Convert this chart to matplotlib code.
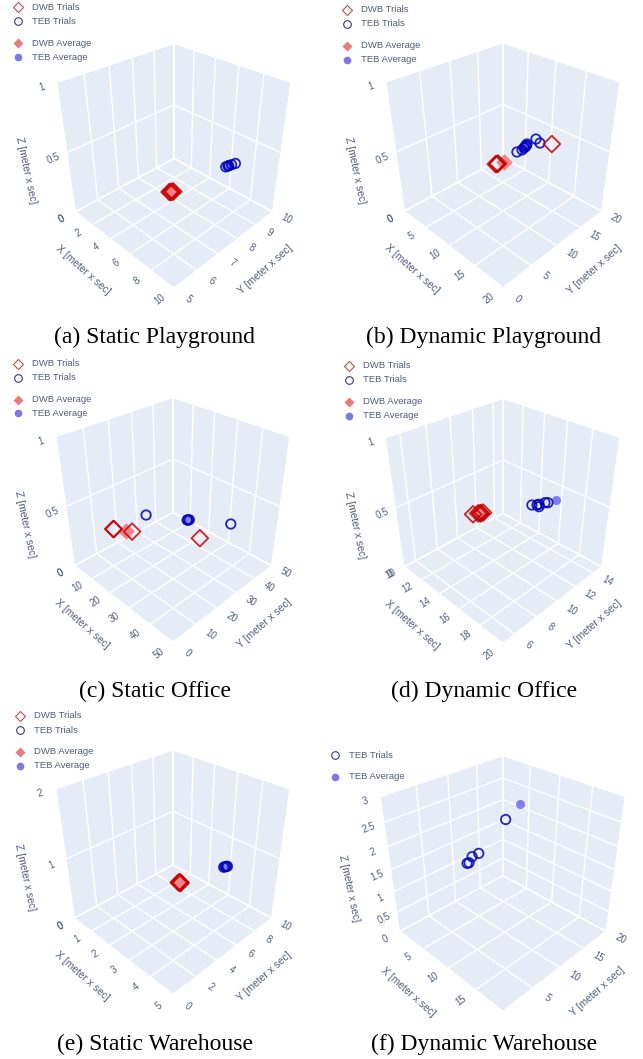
import math
import matplotlib
matplotlib.use("Agg")
import matplotlib.pyplot as plt
from matplotlib.lines import Line2D
from mpl_toolkits.mplot3d import proj3d

W, H = 643, 1059
BG = '#E5ECF6'
TXT = '#4f5d78'
RED = '#c80000'
BLUE = '#0000b8'

# (a) Static Playground
a_dwb_x = [7.87, 7.95, 7.93, 8.0]
a_dwb_y = [5.88, 5.95, 5.9, 5.97]
a_dwb_avg = [7.93, 5.92]
a_teb_x = [8.5, 8.53, 8.55, 8.6, 8.68]
a_teb_y = [8.05, 8.14, 8.17, 8.28, 8.42]
a_teb_avg = [8.54, 8.14]
a_xticks = [0, 2, 4, 6, 8, 10]
a_yticks = [5, 6, 7, 8, 9, 10]
a_zticks = [0, 0.5, 1]

# (b) Dynamic Playground
b_dwb_x = [11.49, 11.5, 11.4, 13.24]
b_dwb_y = [7.44, 7.6, 7.3, 16.12]
b_dwb_avg = [11.8, 8.4]
b_teb_x = [11.3, 11.43, 11.27, 11.11, 10.86, 10.83, 11.93, 11.2, 11.05]
b_teb_y = [11.3, 12.14, 12.69, 13.26, 13.74, 15.6, 15.18, 12.9, 13.4]
b_teb_avg = [11.1, 13.2]
b_xticks = [0, 5, 10, 15, 20]
b_yticks = [0, 5, 10, 15, 20]
b_zticks = [0, 0.5, 1]

# (c) Static Office
c_dwb_x = [21.2, 21.4, 26.35, 43.2]
c_dwb_y = [2.9, 3.0, 6.07, 18.1]
c_dwb_avg = [24.8, 5.0]
c_teb_x = [22.5, 33.8, 34.0, 34.2, 44.95]
c_teb_y = [15.3, 22.5, 22.7, 23.1, 30.5]
c_teb_avg = [34.0, 22.8]
c_xticks = [0, 10, 20, 30, 40, 50]
c_yticks = [0, 10, 20, 30, 40, 50]
c_zticks = [0, 0.5, 1]

# (d) Dynamic Office
d_dwb_x = [14.21, 14.35, 14.44, 14.52, 14.47]
d_dwb_y = [8.06, 8.37, 8.46, 8.65, 8.5]
d_dwb_avg = [14.47, 8.5]
d_teb_x = [16.13, 16.37, 16.4, 16.6, 16.55, 16.69]
d_teb_y = [11.59, 11.83, 11.99, 11.76, 12.43, 12.57]
d_teb_avg = [16.85, 13.2]
d_xticks = [10, 12, 14, 16, 18, 20]
d_yticks = [6, 8, 10, 12, 14]
d_zticks = [0, 0.5, 1]

# (e) Static Warehouse
e_dwb_x = [3.58, 3.62, 3.59, 3.64]
e_dwb_y = [3.33, 3.41, 3.38, 3.36]
e_dwb_avg = [3.61, 3.38]
e_teb_x = [4.0, 4.02, 4.03, 4.05]
e_teb_y = [6.6, 6.7, 6.78, 6.85]
e_teb_avg = [4.02, 6.73]
e_xticks = [0, 1, 2, 3, 4, 5]
e_yticks = [0, 2, 4, 6, 8, 10]
e_zticks = [0, 1, 2]

# (f) Dynamic Warehouse, no DWB runs
f_teb_x = [4.83, 3.44, 3.46, 4.34, 4.27]
f_teb_y = [15.56, 11.75, 10.5, 9.15, 8.87]
f_teb_z = [2.0, 1.35, 1.35, 1.35, 1.35]
f_teb_avg = [7.71, 15.17, 2.5]
f_xticks = [5, 10, 15]
f_yticks = [5, 10, 15, 20]
f_zticks = [0, 0.5, 1, 1.5, 2, 2.5, 3]

captions = ['(a) Static Playground', '(b) Dynamic Playground', '(c) Static Office',
            '(d) Dynamic Office', '(e) Static Warehouse', '(f) Dynamic Warehouse']

plt.rcParams['font.family'] = ['Liberation Sans', 'DejaVu Sans']

fig = plt.figure(figsize=(W / 100, H / 100), dpi=100)


def fmt(v):
    return f'{v:g}'


def label3d(ax, pos, s, size, along=None, angle=None):
    # project to the 2D view so the text is plain 2D text lying along a 3D direction
    M = ax.get_proj()
    x0, y0, _ = proj3d.proj_transform(*pos, M)
    if angle is None:
        end = [p + d for p, d in zip(pos, along)]
        x1, y1, _ = proj3d.proj_transform(*end, M)
        angle = math.degrees(math.atan2(y1 - y0, x1 - x0))
    ax.text2D(x0, y0, s, transform=ax.transData, rotation=angle, rotation_mode='anchor',
              ha='center', va='center', fontsize=size, color=TXT, clip_on=False)


def panel(cx, cy, size, xlim, ylim, zlim, xticks, yticks, zticks,
          dwb, dwb_avg, teb, teb_avg, zmid):
    # mplot3d's 2D view spans -0.095..0.09, so place the view centre on cx, cy
    left = cx - size * 0.095 / 0.185
    bottom = H - (cy + size * 0.095 / 0.185)
    ax = fig.add_axes([left / W, bottom / H, size / W, size / H], projection='3d')
    ax.set_facecolor('none')
    ax.set_proj_type('persp', focal_length=0.341)
    ax.view_init(elev=32, azim=-45)
    ax.set_box_aspect((1, 1, 1))
    ax.set_xlim(*xlim, view_margin=0)
    ax.set_ylim(*ylim, view_margin=0)
    ax.set_zlim(*zlim, view_margin=0)
    ax.set_xticks(xticks)
    ax.set_yticks(yticks)
    ax.set_zticks(zticks)
    ax.set_xticklabels([])
    ax.set_yticklabels([])
    ax.set_zticklabels([])
    for axis in (ax.xaxis, ax.yaxis, ax.zaxis):
        axis.set_pane_color(BG)
        axis.pane.set_edgecolor('white')
        axis.line.set_visible(False)
        axis._axinfo['grid'].update(color='white', linewidth=1.0, linestyle='-')
        axis._axinfo['tick']['inward_factor'] = 0
        axis._axinfo['tick']['outward_factor'] = 0

    dx = xlim[1] - xlim[0]
    dy = ylim[1] - ylim[0]
    dz = zlim[1] - zlim[0]
    for t in xticks:
        label3d(ax, (t, ylim[0] - 0.115 * dy, zlim[0]), fmt(t), 6.9, along=(0, dy, 0))
    for t in yticks:
        label3d(ax, (xlim[1] + 0.115 * dx, t, zlim[0]), fmt(t), 6.9, along=(dx, 0, 0))
    for t in zticks:
        # the bottom z tick falls on the same spot as the first x tick, as in the plotly scene
        off = 0.115 if t == zlim[0] else 0.105
        label3d(ax, (xlim[0], ylim[0] - off * dy, t), fmt(t), 6.9, along=(0, dy, 0))
    label3d(ax, (xlim[0] + dx / 2, ylim[0] - 0.29 * dy, zlim[0]), 'X [meter x sec]', 7.4,
            along=(dx, 0, 0))
    label3d(ax, (xlim[1] + 0.29 * dx, ylim[0] + dy / 2, zlim[0]), 'Y [meter x sec]', 7.4,
            along=(0, dy, 0))
    label3d(ax, (xlim[0], ylim[0] - 0.3 * dy, zlim[0] + dz / 2), 'Z [meter x sec]', 7.4,
            angle=-78)

    if dwb is not None:
        ax.scatter(dwb[0], dwb[1], zmid, marker='D', s=72, facecolors='none', edgecolors=RED,
                   linewidths=1.3, alpha=0.85, depthshade=False)
        ax.scatter(dwb_avg[0], dwb_avg[1], zmid, marker='D', s=72, color='red', linewidths=0,
                   alpha=0.45, depthshade=False)
    ax.scatter(teb[0], teb[1], teb[2], marker='o', s=46, facecolors='none', edgecolors=BLUE,
               linewidths=1.3, alpha=0.85, depthshade=False)
    ax.scatter(teb_avg[0], teb_avg[1], teb_avg[2], marker='o', s=42, color='#2a20f0',
               linewidths=0, alpha=0.55, depthshade=False)
    return ax


def legend_rows(x, y0, rows):
    # rows are (y offset, kind, label), marker centred on x
    tx = x + 14.5
    for dy, kind, label in rows:
        y = 1 - (y0 + dy) / H
        if kind == 'dwb':
            style = dict(marker='D', ms=5, mfc='none', mec='#c05050', mew=0.8)
        elif kind == 'teb':
            style = dict(marker='o', ms=5.5, mfc='none', mec='#35359a', mew=0.8)
        elif kind == 'dwb_avg':
            style = dict(marker='D', ms=5, mfc='#ea7b7b', mec='none')
        else:
            style = dict(marker='o', ms=5.5, mfc='#7c78e6', mec='none')
        fig.add_artist(Line2D([x / W], [y], transform=fig.transFigure, ls='none', **style))
        fig.text(tx / W, y, label, ha='left', va='center', fontsize=6.8, color=TXT)


rows4 = [(0, 'dwb', 'DWB Trials'), (14.3, 'teb', 'TEB Trials'),
         (36, 'dwb_avg', 'DWB Average'), (50, 'teb_avg', 'TEB Average')]
rows2 = [(0, 'teb', 'TEB Trials'), (21.7, 'teb_avg', 'TEB Average')]

panel(174, 152.6, 255, (0, 10), (5, 10), (0, 1), a_xticks, a_yticks, a_zticks,
      (a_dwb_x, a_dwb_y), a_dwb_avg, (a_teb_x, a_teb_y, 0.5), a_teb_avg + [0.5], 0.5)
panel(503, 152, 255, (0, 20), (0, 20), (0, 1), b_xticks, b_yticks, b_zticks,
      (b_dwb_x, b_dwb_y), b_dwb_avg, (b_teb_x, b_teb_y, 0.5), b_teb_avg + [0.5], 0.5)
panel(173, 506.6, 255, (0, 50), (0, 50), (0, 1), c_xticks, c_yticks, c_zticks,
      (c_dwb_x, c_dwb_y), c_dwb_avg, (c_teb_x, c_teb_y, 0.5), c_teb_avg + [0.5], 0.5)
panel(503, 507.6, 255, (10, 20), (5, 15), (0, 1), d_xticks, d_yticks, d_zticks,
      (d_dwb_x, d_dwb_y), d_dwb_avg, (d_teb_x, d_teb_y, 0.5), d_teb_avg + [0.5], 0.5)
panel(173, 859, 255, (0, 5), (0, 10), (0, 2), e_xticks, e_yticks, e_zticks,
      (e_dwb_x, e_dwb_y), e_dwb_avg, (e_teb_x, e_teb_y, 1.0), e_teb_avg + [1.0], 1.0)
panel(503, 869.6, 266, (0, 19.5), (0, 20), (0, 3), f_xticks, f_yticks, f_zticks,
      None, None, (f_teb_x, f_teb_y, f_teb_z), f_teb_avg, 1.5)

legend_rows(18, 7, rows4)
legend_rows(347, 9.5, rows4)
legend_rows(17.5, 363.5, rows4)
legend_rows(348.5, 365.7, rows4)
legend_rows(19.7, 716, rows4)
legend_rows(334.7, 755, rows2)

cap_x = [155, 484, 155, 484, 155, 484]
cap_y = [343, 343, 697, 697, 1050, 1050]
for text, x, y in zip(captions, cap_x, cap_y):
    fig.text(x / W, 1 - y / H, text, ha='center', va='baseline', fontsize=17,
             family='Liberation Serif', color='black')

fig.savefig('out.png', dpi=100)
